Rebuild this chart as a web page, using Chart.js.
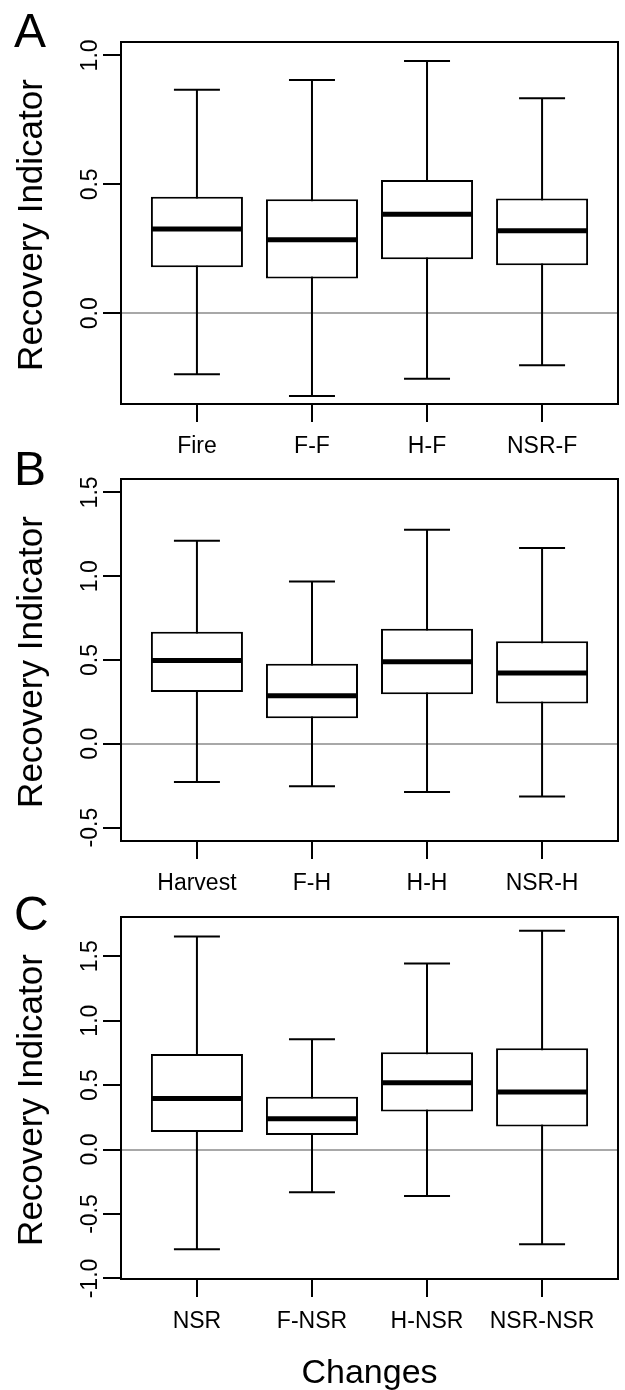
<!DOCTYPE html>
<html><head><meta charset="utf-8">
<script src="https://cdn.jsdelivr.net/npm/chart.js@4.4.1/dist/chart.umd.min.js"></script>
<style>
html,body{margin:0;padding:0;background:#fff;}
body{width:625px;height:1390px;position:relative;overflow:hidden;}
.p{position:absolute;left:0;}
canvas{display:block;}
</style></head><body>
<div class="p" style="top:0px"><canvas id="cA" width="625" height="470"></canvas></div>
<div class="p" style="top:437px"><canvas id="cB" width="625" height="470"></canvas></div>
<div class="p" style="top:875px"><canvas id="cC" width="625" height="515"></canvas></div>
<script>
// ---------- DATA ----------
const categoriesA = ['Fire', 'F-F', 'H-F', 'NSR-F'];
const lowerA  = [-0.237, -0.321, -0.254, -0.202];
const q1A     = [0.178, 0.135, 0.209, 0.186];
const medianA = [0.327, 0.285, 0.384, 0.320];
const q3A     = [0.452, 0.442, 0.517, 0.445];
const upperA  = [0.867, 0.905, 0.978, 0.834];
const yTickLabelsA = ['0.0', '0.5', '1.0'];

const categoriesB = ['Harvest', 'F-H', 'H-H', 'NSR-H'];
const lowerB  = [-0.228, -0.253, -0.287, -0.315];
const q1B     = [0.309, 0.152, 0.295, 0.240];
const medianB = [0.497, 0.287, 0.489, 0.422];
const q3B     = [0.669, 0.477, 0.687, 0.612];
const upperB  = [1.212, 0.968, 1.277, 1.168];
const yTickLabelsB = ['-0.5', '0.0', '0.5', '1.0', '1.5'];

const categoriesC = ['NSR', 'F-NSR', 'H-NSR', 'NSR-NSR'];
const lowerC  = [-0.773, -0.332, -0.361, -0.735];
const q1C     = [0.137, 0.113, 0.296, 0.178];
const medianC = [0.397, 0.240, 0.518, 0.446];
const q3C     = [0.742, 0.410, 0.755, 0.786];
const upperC  = [1.652, 0.856, 1.443, 1.698];
const yTickLabelsC = ['-1.0', '-0.5', '0.0', '0.5', '1.0', '1.5'];

const yTitle = 'Recovery Indicator';
const xTitle = 'Changes';

// ---------- CHARTS ----------
const FONT = "'Liberation Sans', Arial, Helvetica, sans-serif";

function makePanel(id, p) {
  const pos = p.categories.map((_, i) => i + 1);
  const whiskers = pos.map((x, i) => ({x, y: [p.lower[i], p.upper[i]]}));
  const boxes = pos.map((x, i) => ({x, y: [p.q1[i], p.q3[i]]}));
  const caps = pos.flatMap((x, i) => [{x, y: p.lower[i]}, {x, y: p.upper[i]}]);
  const meds = pos.map((x, i) => ({x, y: p.median[i]}));
  const yTickVals = p.yTickLabels.map(Number);
  const canvas = document.getElementById(id);
  const H = canvas.height;

  const textPlugin = {
    id: 'text_' + id,
    afterDraw(chart) {
      const ctx = chart.ctx;
      const a = chart.chartArea;
      const xs = chart.scales.x, ys = chart.scales.y;
      ctx.save();
      // frame
      ctx.strokeStyle = '#000';
      ctx.lineWidth = 2;
      ctx.strokeRect(a.left, a.top, a.right - a.left, a.bottom - a.top);
      ctx.fillStyle = '#000';
      // y tick labels (rotated)
      ctx.font = '23px ' + FONT;
      ctx.textAlign = 'center';
      ctx.textBaseline = 'alphabetic';
      p.yTickLabels.forEach((lab, i) => {
        const y = ys.getPixelForValue(yTickVals[i]);
        ctx.save();
        ctx.translate(97, y);
        ctx.rotate(-Math.PI / 2);
        ctx.fillText(lab, 0, 0);
        ctx.restore();
      });
      // x category labels
      p.categories.forEach((lab, i) => {
        ctx.fillText(lab, xs.getPixelForValue(pos[i]), a.bottom + 49);
      });
      // y title
      ctx.font = '35px ' + FONT;
      ctx.save();
      ctx.translate(42, (a.top + a.bottom) / 2 + 2);
      ctx.rotate(-Math.PI / 2);
      ctx.fillText(yTitle, 0, 0);
      ctx.restore();
      // x title
      ctx.font = '34px ' + FONT;
      if (p.xTitle) {
        ctx.fillText(p.xTitle, (a.left + a.right) / 2, a.bottom + 104);
      }
      // panel letter
      ctx.font = '48px ' + FONT;
      ctx.textAlign = 'left';
      ctx.fillText(p.letter, 14, p.letterBaseline);
      ctx.restore();
    }
  };

  return new Chart(canvas, {
    type: 'bar',
    data: {
      datasets: [
        {
          type: 'bar', label: 'whisker', data: whiskers, order: 4,
          backgroundColor: '#000', borderWidth: 0, barThickness: 2,
          grouped: false, inflateAmount: 0, clip: false
        },
        {
          type: 'line', label: 'caps', data: caps, order: 3, showLine: false,
          pointStyle: 'line', pointRadius: 23, pointHoverRadius: 23,
          pointBorderWidth: 2, pointBorderColor: '#000', borderColor: '#000', clip: false
        },
        {
          type: 'bar', label: 'box', data: boxes, order: 2,
          backgroundColor: '#fff', borderColor: '#000', borderWidth: 2,
          borderSkipped: false, categoryPercentage: 1.0, barPercentage: 0.8,
          grouped: false, inflateAmount: 0, clip: false
        },
        {
          type: 'line', label: 'median', data: meds, order: 1, showLine: false,
          pointStyle: 'line', pointRadius: 45, pointHoverRadius: 45,
          pointBorderWidth: 5, pointBorderColor: '#000', borderColor: '#000', clip: false
        }
      ]
    },
    options: {
      responsive: false,
      animation: false,
      devicePixelRatio: 1,
      events: [],
      layout: {autoPadding: false, padding: {left: 0, right: 7, top: 42, bottom: 0}},
      plugins: {legend: {display: false}, tooltip: {enabled: false}},
      scales: {
        x: {
          type: 'linear', min: 0.34, max: 4.66, offset: false,
          afterBuildTicks: s => { s.ticks = pos.map(v => ({value: v})); },
          afterFit: s => { s.height = H - 404; s.paddingLeft = 0; s.paddingRight = 0; },
          ticks: {display: false},
          border: {display: false},
          grid: {display: true, offset: false, drawOnChartArea: false, drawTicks: true,
                 tickLength: 18, tickColor: '#000', tickWidth: 2, lineWidth: 2, color: '#000'}
        },
        y: {
          type: 'linear', min: p.yMin, max: p.yMax,
          afterBuildTicks: s => { s.ticks = yTickVals.map(v => ({value: v})); },
          afterFit: s => { s.width = 121; s.paddingTop = 0; s.paddingBottom = 0; },
          ticks: {display: false},
          border: {display: false},
          grid: {display: true, offset: false, drawOnChartArea: true, drawTicks: true,
                 tickLength: 18, tickColor: '#000', tickWidth: 2, lineWidth: 2,
                 color: c => (c.tick && c.tick.value === 0) ? '#a8a8a8' : 'rgba(0,0,0,0)'}
        }
      }
    },
    plugins: [textPlugin]
  });
}

makePanel('cA', {categories: categoriesA, lower: lowerA, q1: q1A, median: medianA, q3: q3A, upper: upperA,
  yTickLabels: yTickLabelsA, yMin: -0.352, yMax: 1.052, letter: 'A', letterBaseline: 47});
makePanel('cB', {categories: categoriesB, lower: lowerB, q1: q1B, median: medianB, q3: q3B, upper: upperB,
  yTickLabels: yTickLabelsB, yMin: -0.58, yMax: 1.58, letter: 'B', letterBaseline: 48});
makePanel('cC', {categories: categoriesC, lower: lowerC, q1: q1C, median: medianC, q3: q3C, upper: upperC,
  yTickLabels: yTickLabelsC, yMin: -1.004, yMax: 1.804, letter: 'C', letterBaseline: 55, xTitle: xTitle});
</script>
</body></html>
